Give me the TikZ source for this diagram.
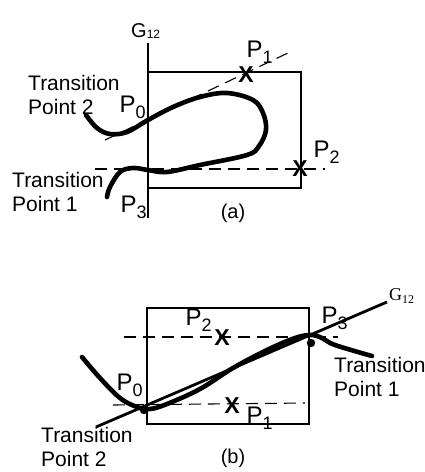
\documentclass[tikz,border=0pt]{standalone}
\usepackage{fontspec}
\setmainfont{Liberation Sans}
\newfontfamily\serifg{Liberation Serif}
\usetikzlibrary{positioning}

\newcommand{\psub}[1]{\raisebox{-6pt}{\fontsize{18}{18}\selectfont #1}}

\begin{document}
\begin{tikzpicture}[
        x=1pt, y=-1pt,
        thin line/.style={line width=1.2pt},
        curveline/.style={line width=4.6pt, line cap=round},
        dashline/.style={line width=1.1pt, dash pattern=on 12pt off 7pt},
        ptlabel/.style={anchor=base west, inner sep=0pt, font=\fontsize{24}{24}\selectfont},
        trans/.style={anchor=north west, inner sep=0pt, align=left, font=\fontsize{21}{24}\selectfont},
        crossx/.style={inner sep=0pt, font=\fontsize{23}{23}\selectfont\bfseries},
        caption/.style={inner sep=0pt, font=\fontsize{20}{20}\selectfont}
    ]
    \useasboundingbox (0,0) rectangle (425,472);

    % (a)
    \coordinate (gtop) at (148,43);
    \coordinate (gbot) at (148,218);
    \draw[thin line] (gtop) -- (gbot);
    \node[anchor=base west, inner sep=0pt, font=\fontsize{20}{20}\selectfont] (g12a) at (131,37) {G\raisebox{-1.5pt}{\fontsize{12}{12}\selectfont 12}};
    \draw[thin line] (148,72) rectangle (301,188);

    \coordinate (da1) at (105,140);
    \coordinate (da2) at (290,52);
    \coordinate (ha1) at (95,169);
    \coordinate (ha2) at (325,169);
    \draw[dashline] (da1) -- (da2);
    \draw[dashline] (ha1) -- (ha2);

    \draw[curveline] plot[smooth, tension=0.6] coordinates {
        (86,115) (97,128) (110,134) (127,132) (148,120) (173,107) (200,97)
        (227,93) (253,100) (263,113) (266,130) (259,146) (247,155)
        (200,165) (167,172) (148,170) (133,168) (120,172) (110,187) (107,197)};

    \node[crossx] (xa1) at (246,75) {X};
    \node[crossx] (xa2) at (300,169) {X};

    \node[ptlabel] (pa0) at (119.5,112) {P\psub{0}};
    \node[ptlabel] (pa1) at (246.5,57) {P\psub{1}};
    \node[ptlabel] (pa2) at (313.5,157) {P\psub{2}};
    \node[ptlabel] (pa3) at (120.5,212) {P\psub{3}};

    \node[trans] (tpa2) at (28,75) {Transition\\Point 2};
    \node[trans] (tpa1) at (12,172) {Transition\\Point 1};
    \node[caption] (capa) at (233,213) {(a)};

    % (b)
    \draw[thin line] (147,308) rectangle (309,424);
    \coordinate (gb1) at (96,427);
    \coordinate (gb2) at (387,302);
    \draw[line width=2.8pt] (gb1) -- (gb2);
    \node[anchor=base west, inner sep=0pt, font=\serifg\fontsize{18}{18}\selectfont] (g12b) at (389,300) {G\raisebox{-0.2em}{\fontsize{12}{12}\selectfont 12}};

    \coordinate (hb1) at (124,337);
    \coordinate (hb2) at (338,337);
    \coordinate (hb3) at (113,405);
    \coordinate (hb4) at (305,403);
    \draw[dashline] (hb1) -- (hb2);
    \draw[dashline] (hb3) -- (hb4);

    \draw[curveline] plot[smooth, tension=0.6] coordinates {
        (82,357) (100,378) (120,398) (137,407) (150,409) (167,404) (200,389)
        (233,368) (267,350) (295,338) (311,335) (322,338) (335,345) (372,356)};

    \fill (144,410) circle (4.2);
    \fill (311,343) circle (4.2);

    \node[crossx] (xb2) at (222,338) {X};
    \node[crossx] (xb1) at (232,406) {X};

    \node[ptlabel] (pb0) at (116.5,390) {P\psub{0}};
    \node[ptlabel] (pb1) at (246.5,423) {P\psub{1}};
    \node[ptlabel] (pb2) at (185.5,325) {P\psub{2}};
    \node[ptlabel] (pb3) at (321.5,323) {P\psub{3}};

    \node[trans] (tpb1) at (334,357) {Transition\\Point 1};
    \node[trans] (tpb2) at (41,427) {Transition\\Point 2};
    \node[caption] (capb) at (233,458) {(b)};

\end{tikzpicture}
\end{document}
